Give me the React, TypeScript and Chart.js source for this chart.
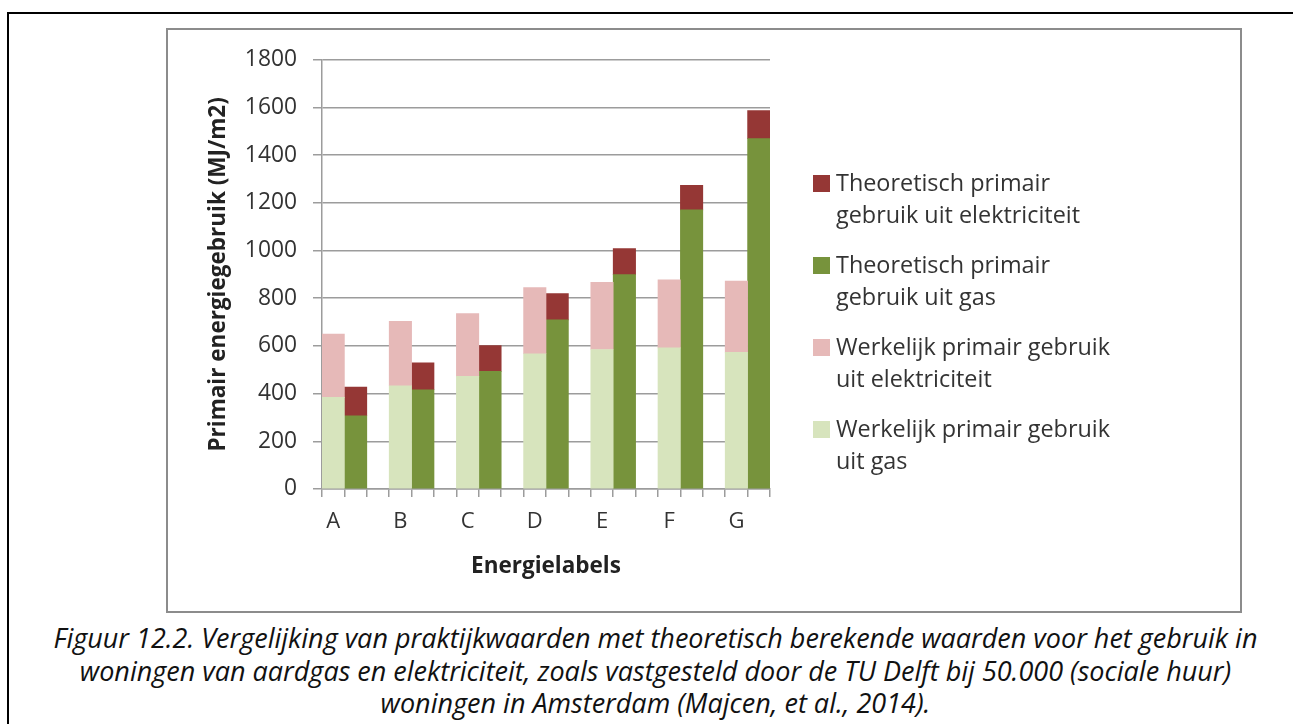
import React, { useEffect, useRef } from "react";
import { Chart, registerables } from "chart.js";

Chart.register(...registerables);

// ---- Data ----
const categories = ["A", "B", "C", "D", "E", "F", "G"];
const werkelijkGas = [384, 433, 472, 567, 585, 592, 573];
const werkelijkElektriciteit = [266, 270, 263, 277, 281, 285, 299];
const theoretischGas = [307, 416, 493, 709, 899, 1170, 1469];
const theoretischElektriciteit = [120, 113, 108, 110, 109, 103, 118];
const yMin = 0;
const yMax = 1800;
const yStep = 200;

const seriesNames = [
  "Werkelijk primair gebruik uit gas",
  "Werkelijk primair gebruik uit elektriciteit",
  "Theoretisch primair gebruik uit gas",
  "Theoretisch primair gebruik uit elektriciteit",
];
const legendLines = [
  ["Theoretisch primair", "gebruik uit elektriciteit"],
  ["Theoretisch primair", "gebruik uit gas"],
  ["Werkelijk primair gebruik", "uit elektriciteit"],
  ["Werkelijk primair gebruik", "uit gas"],
];
const colors = {
  werkelijkGas: "#D7E4BD",
  werkelijkElek: "#E6B9B8",
  theoGas: "#77933C",
  theoElek: "#953735",
};
const legendColors = [colors.theoElek, colors.theoGas, colors.werkelijkElek, colors.werkelijkGas];

const captionLines = [
  "Figuur 12.2. Vergelijking van praktijkwaarden met theoretisch berekende waarden voor het gebruik in",
  "woningen van aardgas en elektriciteit, zoals vastgesteld door de TU Delft bij 50.000 (sociale huur)",
  "woningen in Amsterdam (Majcen, et al., 2014).",
];

// Each label gets three slots: measured bar, theoretical bar, gap (last gap omitted)
const slotLabels: string[] = [];
categories.forEach((c, i) => {
  slotLabels.push(c, "");
  if (i < categories.length - 1) slotLabels.push("");
});
function toSlots(values: number[], offset: number): (number | null)[] {
  const out: (number | null)[] = slotLabels.map(() => null);
  values.forEach((v, i) => {
    out[i * 3 + offset] = v;
  });
  return out;
}

const FONT = "'Open Sans', Lato, sans-serif";
const TEXT = "#333333";
const GRID = "#9c9c9c";

export default function App() {
  const ref = useRef<HTMLCanvasElement | null>(null);

  useEffect(() => {
    if (!ref.current) return;
    const chart = new Chart(ref.current, {
      type: "bar",
      data: {
        labels: slotLabels,
        datasets: [
          { label: seriesNames[0], data: toSlots(werkelijkGas, 0), backgroundColor: colors.werkelijkGas },
          { label: seriesNames[1], data: toSlots(werkelijkElektriciteit, 0), backgroundColor: colors.werkelijkElek },
          { label: seriesNames[2], data: toSlots(theoretischGas, 1), backgroundColor: colors.theoGas },
          { label: seriesNames[3], data: toSlots(theoretischElektriciteit, 1), backgroundColor: colors.theoElek },
        ],
      },
      options: {
        responsive: false,
        animation: false,
        datasets: { bar: { barPercentage: 1, categoryPercentage: 1, borderWidth: 0 } },
        layout: { padding: { left: 0, right: 470, top: 28, bottom: 0 } },
        plugins: { legend: { display: false }, tooltip: { enabled: false } },
        scales: {
          x: {
            stacked: true,
            afterFit: (s: any) => {
              s.height = 121;
            },
            grid: { display: true, drawOnChartArea: false, drawTicks: true, tickLength: 8, color: GRID, lineWidth: 1.5, offset: true },
            border: { display: true, color: GRID, width: 1.5 },
            ticks: { autoSkip: false, maxRotation: 0, minRotation: 0, padding: 12, color: TEXT, font: { family: FONT, size: 22 } },
            title: { display: true, text: "Energielabels", color: "#222", font: { family: FONT, size: 22.5, weight: "bold" }, padding: { top: 0, bottom: 30 } },
          },
          y: {
            stacked: true,
            min: yMin,
            max: yMax,
            afterFit: (s: any) => {
              s.width = 154;
            },
            grid: { color: GRID, lineWidth: 1.5, drawTicks: true, tickLength: 9 },
            border: { display: true, color: GRID, width: 1.5 },
            ticks: {
              stepSize: yStep,
              padding: 16,
              color: TEXT,
              font: { family: FONT, size: 22.8 },
              callback: (v: any) => String(v),
            },
            title: {
              display: true,
              text: "Primair energiegebruik (MJ/m2)",
              color: "#222",
              font: { family: FONT, size: 22.5, weight: "bold" },
              padding: { top: 37, bottom: 0 },
            },
          },
        },
      },
    });
    return () => chart.destroy();
  }, []);

  return (
    <div style={{ position: "absolute", left: 0, top: 0, width: 1293, height: 724, overflow: "hidden", background: "#fff" }}>
      <div
        style={{
          position: "absolute",
          left: 7,
          top: 12,
          width: 1400,
          height: 800,
          borderLeft: "2px solid #000",
          borderTop: "2px solid #000",
        }}
      />
      <div
        style={{
          position: "absolute",
          left: 166,
          top: 28,
          width: 1076,
          height: 585,
          boxSizing: "border-box",
          border: "2px solid #8c8c8c",
        }}
      />
      <canvas ref={ref} width={1072} height={580} style={{ position: "absolute", left: 168, top: 30, width: 1072, height: 580 }} />
      {legendLines.map((lines, i) => (
        <div key={i} style={{ position: "absolute", left: 813, top: 166 + i * 82, fontFamily: FONT, fontSize: 23.4, color: TEXT, lineHeight: "32px" }}>
          <div style={{ position: "absolute", left: 0, top: 9, width: 17, height: 17, background: legendColors[i] }} />
          <div style={{ position: "absolute", left: 23, top: 0, whiteSpace: "nowrap" }}>
            {lines.map((l, j) => (
              <div key={j}>{l}</div>
            ))}
          </div>
        </div>
      ))}
      <div
        style={{
          position: "absolute",
          left: 0,
          width: 1311,
          top: 622,
          textAlign: "center",
          fontFamily: FONT,
          fontStyle: "italic",
          fontSize: 27,
          lineHeight: "32.5px",
          color: "#111",
        }}
      >
        {captionLines.map((l, i) => (
          <div key={i} style={{ whiteSpace: "nowrap" }}>{l}</div>
        ))}
      </div>
    </div>
  );
}
